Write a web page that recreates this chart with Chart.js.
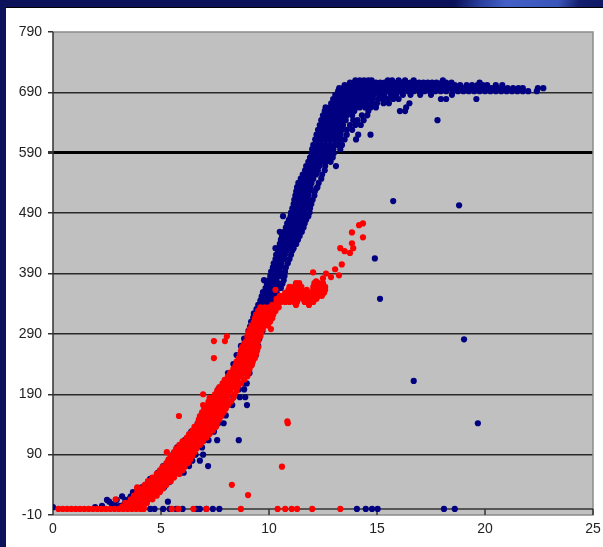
<!DOCTYPE html>
<html>
<head>
<meta charset="utf-8">
<title>Scatter chart</title>
<script src="https://cdn.jsdelivr.net/npm/chart.js@4"></script>
<style>
    html, body { margin: 0; height: 100%; overflow: hidden; background: #fff; }
    #top-strip {
        position: absolute; left: 0; top: 0; width: 603px; height: 8px;
        background: linear-gradient(105deg, #0b1259 0, #0b1259 440px, #2a3f9e 465px, #4460c8 490px, #3a55b8 540px, #14206e 560px, #0b1259 603px);
        border-bottom: 1px solid #000; box-sizing: border-box;
    }
    #left-strip { position: absolute; left: 0; top: 0; width: 6px; height: 547px; background: #0b1259; }
    canvas { position: absolute; left: 0; top: 0; }
</style>
</head>
<body>
<div id="top-strip"></div>
<div id="left-strip"></div>
<canvas id="scatter-chart" width="603" height="547"></canvas>
<script>
// each row is [y, x, x, x ...]
const yTickValues = [-10, 90, 190, 290, 390, 490, 590, 690, 790];

const blueBase = [
    [0, 4.5, 4.7, 5.1, 5.4, 5.7, 6.0, 6.65, 6.8, 7.1, 7.4, 7.7, 14.07, 14.48, 14.77, 15.03, 18.1, 18.6],
    [3, 0.0, 1.95],
    [5, 2.27, 3.1, 2.9],
    [8, 2.73, 3.3, 3.7],
    [12, 5.32, 2.6],
    [15, 2.5, 2.95, 3.35],
    [18, 3.57, 3.8],
    [21, 3.2, 3.6]
];
const blueLower = [
    [28, 3.7, 3.95, 4.6, 4.9],
    [36, 4.1, 4.3, 4.95, 5.15],
    [45, 4.4, 4.6, 5.2, 5.4],
    [50, 4.72, 4.5, 5.4],
    [60, 4.85, 5.0, 5.7, 6.05],
    [71, 7.18, 5.1, 6.1, 6.3],
    [80, 5.35, 6.2, 6.45, 6.8],
    [90, 5.55, 6.3, 6.6, 6.95],
    [102, 5.75, 6.6, 6.9],
    [114, 7.6, 8.6, 6.1, 7.0, 7.2],
    [128, 6.4, 7.25, 7.45],
    [142, 7.9, 6.7, 7.5, 7.65],
    [155, 6.95, 7.8, 8.0],
    [172, 8.98, 7.2, 8.1, 8.3],
    [185, 7.45, 8.35, 8.65, 8.9],
    [198, 7.65, 8.6, 8.85],
    [208, 8.97, 7.95, 8.85],
    [225, 8.1, 8.95, 9.1],
    [240, 8.35, 9.2],
    [255, 8.5, 9.3, 9.4],
    [270, 8.7, 9.5],
    [282, 8.85, 9.55]
];
const blueMiddle = [
    [295, 9.05, 9.27, 9.44, 9.7],
    [302, 9.12, 9.3, 9.53, 9.72],
    [310, 9.17, 9.33, 9.5, 9.75],
    [317, 9.27, 9.45, 9.66, 9.8],
    [324, 9.3, 9.52, 9.7, 9.93],
    [331, 9.42, 9.6, 9.82, 10.0],
    [338, 9.5, 9.72, 9.9, 10.05],
    [345, 9.6, 9.8, 9.97, 10.13],
    [352, 9.66, 9.85, 10.06, 10.25],
    [359, 9.72, 9.92, 10.1, 10.35],
    [366, 9.84, 10.0, 10.22, 10.4, 10.55],
    [373, 9.9, 10.08, 10.25, 10.46, 10.62],
    [379, 9.77, 10.0, 10.17, 10.35, 10.68],
    [386, 10.06, 10.22, 10.42, 10.55, 10.72],
    [393, 10.1, 10.3, 10.47, 10.74],
    [400, 10.18, 10.35, 10.52, 10.78],
    [407, 10.22, 10.4, 10.58, 10.87],
    [414, 10.3, 10.48, 10.7, 10.95],
    [421, 10.33, 10.55, 10.74, 11.02],
    [428, 10.42, 10.62, 10.82, 11.08],
    [432, 10.3, 10.5, 10.7, 10.9, 11.14],
    [439, 10.5, 10.72, 10.92, 11.12, 11.26],
    [446, 10.55, 10.77, 10.95, 11.18, 11.34],
    [452, 10.6, 10.8, 11.02, 11.22, 11.42],
    [459, 10.5, 10.7, 10.9, 11.1, 11.32, 11.52],
    [466, 10.78, 10.98, 11.2, 11.38, 11.6],
    [473, 10.84, 11.05, 11.25, 11.44, 11.65],
    [479, 10.92, 11.12, 11.3, 11.52, 11.72],
    [485, 10.65, 11.0, 11.2, 11.4, 11.6, 11.82],
    [491, 11.02, 11.22, 11.43, 11.62, 11.88],
    [498, 11.08, 11.3, 11.5, 11.68, 11.9],
    [505, 11.14, 11.32, 11.54, 11.72, 11.96],
    [512, 11.17, 11.38, 11.57, 11.78, 12.02],
    [519, 11.22, 11.42, 11.62, 11.82, 12.1],
    [526, 11.26, 11.48, 11.68, 11.86, 12.12],
    [533, 11.3, 11.52, 11.72, 11.92, 12.24],
    [540, 11.36, 11.56, 11.78, 11.97, 12.3],
    [547, 11.47, 11.65, 11.86, 12.05, 12.42],
    [554, 11.56, 11.77, 11.95, 12.18, 12.46],
    [561, 11.67, 11.85, 12.07, 12.26, 12.58],
    [568, 11.72, 11.92, 12.1, 12.33, 12.6, 13.1],
    [575, 11.82, 12.0, 12.22, 12.42, 12.62, 12.85],
    [582, 11.9, 12.12, 12.3, 12.52, 12.72, 12.95]
];
const blueUpper = [
    [589, 11.97, 12.15, 12.37, 12.55, 12.78, 13.0],
    [596, 12.0, 12.18, 12.35, 12.57, 12.75, 12.98, 13.3],
    [603, 12.05, 12.24, 12.42, 12.62, 12.82, 13.03, 13.2, 13.38],
    [612, 12.14, 12.3, 12.5, 12.68, 12.88, 13.07, 13.27, 13.5, 14.03],
    [620, 12.2, 12.36, 12.55, 12.75, 12.93, 13.12, 13.32, 13.6, 14.13, 14.7],
    [628, 12.27, 12.45, 12.62, 12.8, 13.0, 13.18, 13.38, 13.6, 13.85],
    [636, 12.35, 12.5, 12.68, 12.88, 13.05, 13.25, 13.43, 13.75, 14.0, 14.25],
    [644, 12.42, 12.56, 12.75, 12.95, 13.14, 13.33, 13.55, 13.9, 14.1, 14.38, 17.8],
    [652, 12.5, 12.68, 12.85, 13.05, 13.22, 13.42, 13.6, 13.85, 14.3, 14.55],
    [659, 12.58, 12.75, 12.95, 13.12, 13.33, 13.5, 13.72, 13.95, 14.6, 16.06, 16.3],
    [665, 12.62, 12.82, 13.03, 13.22, 13.42, 13.62, 13.8, 14.02, 14.2, 14.45, 14.7, 14.95, 16.35],
    [672, 12.88, 13.07, 13.27, 13.45, 13.65, 13.87, 14.05, 14.26, 14.5, 14.75, 15.0, 15.3, 15.55, 16.5],
    [679, 12.97, 13.15, 13.37, 13.55, 13.76, 13.96, 14.15, 14.36, 14.55, 14.8, 15.05, 15.25, 15.5, 15.75, 16.0, 17.96, 18.2, 19.6],
    [686, 13.07, 13.27, 13.45, 13.67, 13.85, 14.06, 14.25, 14.47, 14.65, 14.85, 15.1, 15.35, 15.65, 15.9, 16.2, 16.55, 17.0, 17.5, 18.47]
];
const blueTop = [
    [692, 13.2, 13.4, 13.6, 13.8, 14.0, 14.2, 14.4, 14.6, 14.8, 15.0, 15.2, 15.4, 15.6, 15.8, 16.0, 16.2, 16.45, 16.7, 16.95, 17.2, 17.45, 17.7, 17.95, 18.2, 18.5, 18.75, 19.0, 19.25, 19.5, 19.75, 20.0, 20.25, 20.5, 20.75, 21.0, 21.25, 21.5, 21.75, 22.0, 22.4],
    [697, 13.25, 13.45, 13.65, 13.85, 14.05, 14.25, 14.45, 14.65, 14.85, 15.05, 15.25, 15.45, 15.65, 15.85, 16.05, 16.3, 16.55, 16.8, 17.05, 17.3, 17.55, 17.8, 18.05, 18.3, 18.55, 18.8, 19.05, 19.3, 19.55, 19.8, 20.05, 20.3, 20.55, 20.8, 21.05, 21.3, 21.55, 21.75, 22.45, 22.7],
    [702, 13.5, 13.7, 13.9, 14.1, 14.3, 14.5, 14.7, 14.9, 15.1, 15.3, 15.5, 15.7, 15.9, 16.1, 16.3, 16.55, 16.8, 17.05, 17.3, 17.55, 17.8, 18.05, 18.3, 18.6, 18.85, 19.15, 19.4, 19.65, 19.9, 20.1, 20.5, 20.8],
    [706, 13.75, 13.95, 14.15, 14.35, 14.55, 14.75, 14.95, 15.15, 15.35, 15.55, 15.75, 15.95, 16.15, 16.35, 16.55, 16.75, 16.95, 17.15, 17.35, 17.55, 17.75, 18.0, 18.2, 18.45, 19.75],
    [710, 14.0, 14.2, 14.4, 14.6, 14.75, 15.5, 15.7, 16.0, 16.3, 16.7, 18.05]
];
const blueOutliers = [
    [510, 15.75],
    [503, 18.8],
    [415, 14.9],
    [348, 15.14],
    [281, 19.03],
    [212, 16.7],
    [142, 19.67],
    [531, 12.2]
];

const redBase = [
    [0, 0.25, 0.45, 0.65, 0.85, 1.05, 1.25, 1.45, 1.65, 1.85, 2.05, 2.25, 2.45, 2.65, 2.85, 3.05, 3.25, 3.45, 3.65, 3.85, 4.05, 4.2, 5.5, 5.8, 6.5, 7.1, 8.7, 10.4, 10.75, 11.05, 11.3, 12.0, 13.3]
];
const redBand = [
    [4, 3.2, 3.4, 3.6, 3.8, 4.0, 4.2],
    [10, 3.35, 3.55, 3.75, 3.95, 4.15, 4.35],
    [16, 3.6, 3.8, 4.0, 4.2, 4.4, 4.6, 2.9],
    [22, 3.75, 3.95, 4.15, 4.35, 4.55, 4.8],
    [28, 3.9, 4.1, 4.3, 4.5, 4.7, 4.95],
    [34, 4.1, 4.3, 4.5, 4.7, 4.9, 5.1, 3.9],
    [40, 4.25, 4.45, 4.65, 4.85, 5.05, 5.25, 8.28],
    [46, 4.4, 4.6, 4.8, 5.0, 5.2, 5.45],
    [52, 4.6, 4.8, 5.0, 5.2, 5.4, 5.6],
    [58, 4.8, 5.0, 5.2, 5.4, 5.6, 5.85],
    [64, 4.95, 5.15, 5.35, 5.55, 5.75, 6.0],
    [70, 5.1, 5.3, 5.5, 5.7, 5.9, 6.1, 10.6],
    [76, 5.25, 5.45, 5.65, 5.85, 6.05, 6.25],
    [82, 5.35, 5.55, 5.75, 5.95, 6.15, 6.35],
    [88, 5.45, 5.65, 5.85, 6.05, 6.25, 6.45],
    [94, 5.27, 5.6, 5.8, 6.0, 6.2, 6.4, 6.55],
    [100, 5.7, 5.9, 6.1, 6.3, 6.5, 6.65],
    [106, 5.85, 6.05, 6.25, 6.45, 6.65, 6.8],
    [112, 6.0, 6.2, 6.4, 6.6, 6.8, 6.95],
    [118, 6.2, 6.4, 6.6, 6.8, 7.0, 7.1],
    [124, 6.3, 6.5, 6.7, 6.9, 7.1, 7.25],
    [130, 6.45, 6.65, 6.85, 7.05, 7.25, 7.4],
    [136, 6.55, 6.75, 6.95, 7.15, 7.35, 7.55],
    [142, 6.7, 6.9, 7.1, 7.3, 7.5, 7.6, 10.87],
    [148, 6.75, 6.95, 7.15, 7.35, 7.55, 7.7],
    [154, 5.83, 6.8, 7.0, 7.2, 7.4, 7.6, 7.8],
    [160, 6.9, 7.1, 7.3, 7.5, 7.7, 7.9],
    [166, 7.0, 7.2, 7.4, 7.6, 7.8, 8.0],
    [172, 6.95, 7.15, 7.35, 7.55, 7.75, 7.95, 8.1],
    [178, 7.2, 7.4, 7.6, 7.8, 8.0, 8.25],
    [184, 7.25, 7.45, 7.65, 7.85, 8.05, 8.35],
    [190, 6.95, 7.5, 7.7, 7.9, 8.1, 8.4],
    [196, 7.6, 7.8, 8.0, 8.2, 8.5],
    [202, 7.7, 7.9, 8.1, 8.3, 8.55],
    [208, 7.85, 8.05, 8.25, 8.45, 8.7],
    [214, 7.95, 8.15, 8.35, 8.55, 8.85],
    [220, 8.1, 8.3, 8.5, 8.7, 9.0],
    [226, 8.2, 8.4, 8.6, 8.8, 9.05],
    [232, 8.35, 8.55, 8.75, 8.95, 9.1],
    [238, 8.45, 8.65, 8.85, 9.05, 9.2],
    [244, 8.5, 8.7, 8.9, 9.1, 9.25],
    [250, 7.45, 8.6, 8.8, 9.0, 9.2, 9.35],
    [256, 8.65, 8.85, 9.05, 9.25, 9.4],
    [262, 8.7, 8.9, 9.1, 9.3, 9.45],
    [268, 8.75, 8.95, 9.15, 9.35, 9.5],
    [274, 8.85, 9.05, 9.25, 9.45],
    [278, 7.45, 7.96, 8.95, 9.15, 9.35, 9.5],
    [286, 8.05, 9.0, 9.2, 9.4, 9.6],
    [292, 9.05, 9.25, 9.45, 9.65],
    [298, 9.1, 9.3, 9.5, 9.7, 10.09],
    [304, 9.2, 9.4, 9.6, 9.75, 9.95],
    [310, 9.3, 9.5, 9.7, 9.85, 10.05],
    [316, 9.35, 9.55, 9.75, 9.95, 10.15],
    [322, 9.4, 9.6, 9.8, 10.0, 10.2],
    [328, 9.5, 9.7, 9.9, 10.05, 10.3],
    [334, 9.6, 9.8, 10.0, 10.2, 10.45]
];
const redPlateau = [
    [338, 10.15, 10.4, 11.25, 11.85],
    [343, 10.35, 10.55, 10.75, 10.95, 11.15, 11.3, 11.65, 11.85, 12.05],
    [348, 10.35, 10.55, 10.75, 10.95, 11.15, 11.35, 11.55, 11.75, 11.95, 12.2],
    [353, 10.5, 10.7, 10.9, 11.1, 11.3, 11.5, 11.7, 11.9, 12.1, 12.3, 12.45],
    [358, 10.75, 10.95, 11.15, 11.35, 11.55, 11.75, 11.95, 12.15, 12.35, 12.55],
    [363, 10.3, 10.9, 11.1, 11.3, 11.5, 11.75, 12.05, 12.25, 12.45, 12.6],
    [368, 10.95, 11.15, 11.35, 11.5, 12.05, 12.25, 12.45, 12.6],
    [374, 11.25, 11.4, 12.1, 12.3, 12.5],
    [377, 12.18],
    [382, 12.5],
    [384, 12.87],
    [387, 13.24],
    [390, 12.64],
    [392, 12.04],
    [397, 13.06],
    [405, 13.37],
    [424, 13.75],
    [427, 13.5],
    [432, 13.3, 13.9],
    [440, 13.84],
    [450, 14.35],
    [458, 13.84],
    [470, 14.17],
    [473, 14.35]
];
const redOutliers = [
    [68, 5.05],
    [36, 3.9],
    [23, 9.03],
    [145, 10.85]
];

function toPoints(rows) {
    return rows.flatMap(row => row.slice(1).map(x => ({ x: x, y: row[0] })));
}

const bluePoints = toPoints([...blueBase, ...blueLower, ...blueMiddle, ...blueUpper, ...blueTop, ...blueOutliers]);
const redPoints = toPoints([...redBase, ...redBand, ...redPlateau, ...redOutliers]);

// grey plot background, frame, and the axis line that crosses at y = 0
const plotFrame = {
    id: 'plotFrame',
    beforeDraw(chart) {
        const { ctx, chartArea: a } = chart;
        ctx.save();
        ctx.fillStyle = '#c0c0c0';
        ctx.fillRect(a.left, a.top, a.right - a.left, a.bottom - a.top);
        ctx.restore();
    },
    beforeDatasetsDraw(chart) {
        const { ctx, chartArea: a, scales } = chart;
        const zero = scales.y.getPixelForValue(0);
        ctx.save();
        ctx.strokeStyle = '#8c8c8c';
        ctx.lineWidth = 1.5;
        ctx.beginPath();
        ctx.moveTo(a.left, a.top);
        ctx.lineTo(a.right, a.top);
        ctx.lineTo(a.right, a.bottom);
        ctx.lineTo(a.left, a.bottom);
        ctx.stroke();
        ctx.strokeStyle = '#333';
        ctx.beginPath();
        ctx.moveTo(a.left, a.top);
        ctx.lineTo(a.left, a.bottom);
        ctx.moveTo(a.left, zero);
        ctx.lineTo(a.right, zero);
        scales.x.ticks.forEach(t => {
            const px = scales.x.getPixelForValue(t.value);
            ctx.moveTo(px, zero);
            ctx.lineTo(px, a.bottom);
        });
        ctx.stroke();
        ctx.restore();
    }
};

const ctx = document.getElementById('scatter-chart').getContext('2d');
new Chart(ctx, {
    type: 'scatter',
    data: {
        datasets: [
            {
                label: 'red',
                data: redPoints,
                order: 1,
                pointStyle: 'circle',
                pointRadius: 3.1,
                pointBorderWidth: 0,
                backgroundColor: '#ff0000',
                borderColor: '#ff0000'
            },
            {
                label: 'blue',
                data: bluePoints,
                order: 2,
                pointStyle: 'circle',
                pointRadius: 3.1,
                pointBorderWidth: 0,
                backgroundColor: '#000080',
                borderColor: '#000080'
            }
        ]
    },
    options: {
        responsive: false,
        animation: false,
        layout: { padding: { top: 32, right: 10, left: 0, bottom: 0 } },
        plugins: {
            legend: { display: false },
            tooltip: { enabled: false }
        },
        scales: {
            x: {
                type: 'linear',
                min: 0,
                max: 25,
                afterFit(scale) {
                    scale.height = 32;
                    scale.paddingLeft = 0;
                    scale.paddingRight = 0;
                },
                grid: { display: false, drawTicks: false },
                border: { display: false },
                ticks: {
                    stepSize: 5,
                    padding: 6,
                    maxRotation: 0,
                    color: '#222',
                    font: { family: '"Liberation Sans"', size: 14 }
                }
            },
            y: {
                type: 'linear',
                min: -10,
                max: 790,
                afterFit(scale) {
                    scale.width = 53;
                    scale.paddingTop = 0;
                    scale.paddingBottom = 0;
                },
                afterBuildTicks(scale) { scale.ticks = yTickValues.map(v => ({ value: v })); },
                grid: {
                    tickLength: 5,
                    color(c) {
                        if (!c.tick) return '#2a2a2a';
                        return c.tick.value === 790 || c.tick.value === -10 ? 'rgba(0,0,0,0)' : (c.tick.value === 590 ? '#000' : '#2a2a2a');
                    },
                    tickColor: '#333',
                    lineWidth(c) { return c.tick && c.tick.value === 590 ? 3 : 1.5; }
                },
                border: { display: false },
                ticks: {
                    padding: 6,
                    color: '#222',
                    font: { family: '"Liberation Sans"', size: 14 }
                }
            }
        }
    },
    plugins: [plotFrame]
});
</script>
</body>
</html>
